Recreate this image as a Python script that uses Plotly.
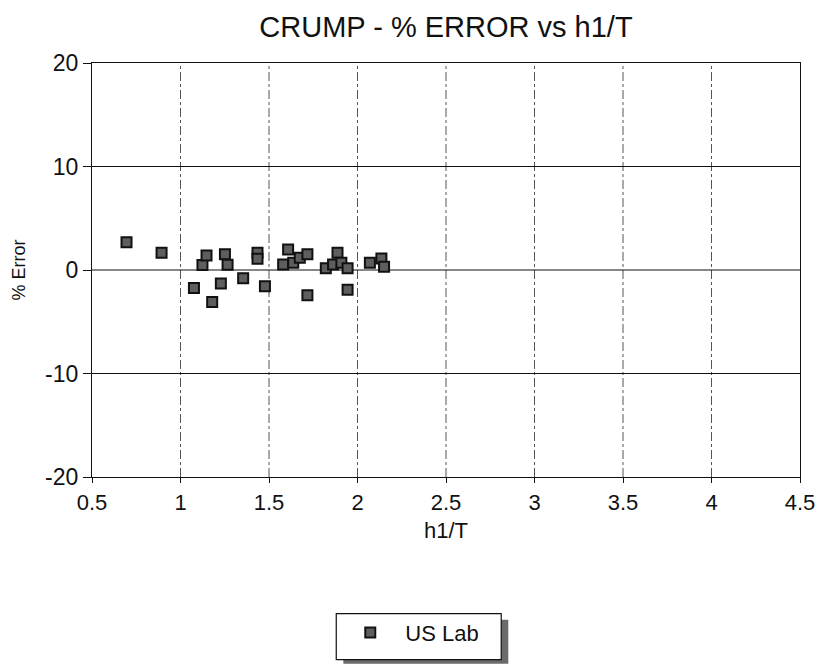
import plotly.graph_objects as go

# h1/T ratio and percentage error for the US Lab runs
h1_T = [0.695, 0.893, 1.076, 1.124, 1.147, 1.179, 1.228, 1.251, 1.266, 1.354,
        1.435, 1.435, 1.477, 1.580, 1.608, 1.637, 1.674, 1.717, 1.717, 1.821,
        1.862, 1.887, 1.909, 1.944, 1.944, 2.070, 2.135, 2.150]
pct_error = [2.69, 1.67, -1.73, 0.48, 1.41, -3.08, -1.31, 1.51, 0.51, -0.80,
             1.67, 1.09, -1.57, 0.54, 1.99, 0.71, 1.19, 1.51, -2.44, 0.16,
             0.54, 1.67, 0.71, 0.16, -1.92, 0.71, 1.12, 0.32]

x_ticks = [0.5, 1, 1.5, 2, 2.5, 3, 3.5, 4, 4.5]
y_ticks = [-20, -10, 0, 10, 20]
y_tick_labels = ["-20", "-10", "0", "10", "20"]

FONT = "Liberation Sans, Arial, sans-serif"
NARROW = "Liberation Sans Narrow, Arial Narrow, Liberation Sans, sans-serif"

fig = go.Figure()
fig.add_trace(go.Scatter(
    x=h1_T, y=pct_error, mode="markers", name="US Lab",
    marker=dict(symbol="square", size=10, color="#5e5e5e",
                line=dict(color="#111111", width=2)),
))

# vertical dashed grid lines at the x ticks
for xv in x_ticks[1:-1]:
    fig.add_shape(type="line", xref="x", yref="paper", x0=xv, x1=xv, y0=0, y1=1,
                  line=dict(color="#555555", width=1, dash="dashdot"), layer="below")
# horizontal solid grid lines
for yv in y_ticks[1:-1]:
    fig.add_shape(type="line", xref="paper", yref="y", x0=0, x1=1, y0=yv, y1=yv,
                  line=dict(color="#111111", width=1.2), layer="below")

# legend frame with its drop shadow
fig.add_shape(type="rect", xref="paper", yref="paper",
              x0=0.355, x1=0.588, y0=-0.451, y1=-0.345,
              fillcolor="#6a6a6a", line=dict(width=0), layer="below")
fig.add_shape(type="rect", xref="paper", yref="paper",
              x0=0.345, x1=0.578, y0=-0.441, y1=-0.330,
              fillcolor="white", line=dict(color="#111111", width=1.2), layer="below")

fig.update_layout(
    width=827, height=666,
    margin=dict(l=92, r=22, t=63, b=188),
    paper_bgcolor="white", plot_bgcolor="white",
    font=dict(family=FONT, color="#111111"),
    title=dict(text="CRUMP - % ERROR vs h1/T", x=0.5, xref="paper", xanchor="center",
               y=0.96, yanchor="middle", font=dict(size=29, family=FONT)),
    xaxis=dict(range=[0.5, 4.5], tickvals=x_ticks, ticktext=[str(v) for v in x_ticks],
               showgrid=False, zeroline=False, showline=True, mirror=True,
               linecolor="#111111", linewidth=1.2, ticks="outside", ticklen=5,
               tickcolor="#111111", tickfont=dict(size=22, family=NARROW),
               title=dict(text="h1/T", font=dict(size=22, family=NARROW), standoff=9)),
    yaxis=dict(range=[-20, 20], tickvals=y_ticks, ticktext=y_tick_labels,
               showgrid=False, zeroline=False,
               showline=True, mirror=True, linecolor="#111111", linewidth=1.2,
               ticks="outside", ticklen=8, tickcolor="#111111",
               tickfont=dict(size=23, family=NARROW),
               title=dict(text="% Error", font=dict(size=18, family=NARROW), standoff=14)),
    showlegend=True,
    legend=dict(x=0.3436, xanchor="left", y=-0.376, yanchor="middle",
                bgcolor="rgba(0,0,0,0)", borderwidth=0,
                font=dict(size=22, family=NARROW), itemwidth=60),
)

fig.write_html("out.html")
